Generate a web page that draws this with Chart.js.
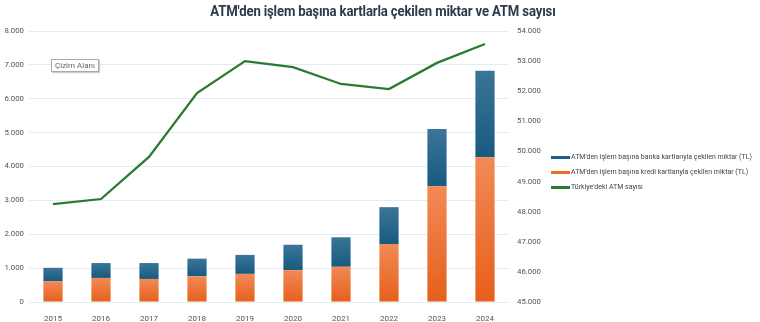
<!DOCTYPE html>
<html>
<head>
<meta charset="utf-8">
<script src="https://cdn.jsdelivr.net/npm/chart.js@4"></script>
<style>
  html, body { margin: 0; padding: 0; background: #fff; }
  #wrap { position: relative; width: 760px; height: 322px; font-family: Roboto, sans-serif; }
  #title { position: absolute; left: 0; top: 2px; width: 766px; text-align: center; font-size: 15.5px; font-weight: bold; color: #2a3b4c; letter-spacing: -0.2px; transform: scaleX(0.85); }
  #plotTag { position: absolute; left: 51px; top: 59px; padding: 1px 3px; font-size: 8px; color: #666; border: 1px solid #aaa; background: #fff; box-shadow: 1px 1px 1px #ccc; }
  #legend { position: absolute; left: 551px; top: 152px; font-size: 7px; color: #444; }
  #legend div { height: 15px; line-height: 10px; white-space: nowrap; }
  #legend i { display: inline-block; width: 19px; height: 3px; vertical-align: middle; margin-right: 1px; }
  canvas { position: absolute; left: 0; top: 0; }
</style>
</head>
<body>
<div id="wrap">
  <canvas id="chart" width="760" height="322"></canvas>
  <div id="title">ATM'den işlem başına kartlarla çekilen miktar ve ATM sayısı</div>
  <div id="plotTag">Çizim Alanı</div>
  <div id="legend"></div>
</div>
<script>
const years = ['2015', '2016', '2017', '2018', '2019', '2020', '2021', '2022', '2023', '2024'];
const krediKarti = [610, 710, 680, 760, 830, 940, 1040, 1710, 3420, 4270];
const bankaKarti = [400, 440, 470, 520, 560, 750, 870, 1090, 1690, 2560];
const atmSayisi = [48250, 48420, 49820, 51940, 53000, 52800, 52240, 52070, 52940, 53570];

const labels = {
  banka: "ATM'den işlem başına banka kartlarıyla çekilen miktar (TL)",
  kredi: "ATM'den işlem başına kredi kartlarıyla çekilen miktar (TL)",
  atm: "Türkiye'deki ATM sayısı",
};
const colors = { banka: '#1f5d84', kredi: '#ee6c2c', atm: '#2a7a30' };

const fmt = (v) => Number(v).toLocaleString('de-DE');

function barGradient(ctx, light, dark, base) {
  const chart = ctx.chart;
  if (!chart.chartArea || ctx.type !== 'data') return dark;
  const y = chart.scales.y;
  const i = ctx.dataIndex;
  const from = base ? base[i] : 0;
  const top = y.getPixelForValue(from + ctx.raw);
  const bottom = y.getPixelForValue(from);
  if (!isFinite(top) || !isFinite(bottom) || top === bottom) return dark;
  const g = chart.ctx.createLinearGradient(0, top, 0, bottom);
  g.addColorStop(0, light);
  g.addColorStop(1, dark);
  return g;
}

new Chart(document.getElementById('chart'), {
  type: 'bar',
  data: {
    labels: years,
    datasets: [
      {
        label: labels.atm,
        type: 'line',
        data: atmSayisi,
        yAxisID: 'y2',
        borderColor: colors.atm,
        borderWidth: 2.3,
        pointRadius: 0,
        tension: 0,
        order: 0,
      },
      {
        label: labels.kredi,
        data: krediKarti,
        backgroundColor: (c) => barGradient(c, '#f28a55', '#e65f1c', null),
        barPercentage: 0.4,
        categoryPercentage: 1,
        stack: 's',
        order: 1,
      },
      {
        label: labels.banka,
        data: bankaKarti,
        backgroundColor: (c) => barGradient(c, '#3b7598', '#185a80', krediKarti),
        barPercentage: 0.4,
        categoryPercentage: 1,
        stack: 's',
        order: 1,
      },
    ],
  },
  options: {
    responsive: false,
    animation: false,
    layout: { padding: { top: 31, right: 211, bottom: 0, left: 0 } },
    plugins: { legend: { display: false }, tooltip: { enabled: false } },
    scales: {
      x: {
        stacked: true,
        grid: { display: false },
        border: { display: false },
        ticks: { color: '#555', font: { family: 'Roboto', size: 8 }, padding: 4 },
        afterFit: (s) => { s.height = 20; },
      },
      y: {
        stacked: true,
        min: 0,
        max: 8000,
        ticks: { stepSize: 1000, color: '#555', font: { family: 'Roboto', size: 7.8 }, callback: fmt, padding: 5 },
        grid: { color: '#e2ecf5', lineWidth: 1, drawTicks: false },
        border: { display: false },
        afterFit: (s) => { s.width = 29; },
      },
      y2: {
        position: 'right',
        min: 45000,
        max: 54000,
        ticks: { stepSize: 1000, color: '#555', font: { family: 'Roboto', size: 7.8 }, callback: fmt, padding: 8 },
        grid: { display: false, drawTicks: false },
        border: { display: false },
        afterFit: (s) => { s.width = 40; },
      },
    },
  },
});

const legend = document.getElementById('legend');
[['banka', colors.banka], ['kredi', colors.kredi], ['atm', colors.atm]].forEach(([k, c]) => {
  const row = document.createElement('div');
  row.innerHTML = `<i style="background:${c}"></i>${labels[k]}`;
  legend.appendChild(row);
});
</script>
</body>
</html>
